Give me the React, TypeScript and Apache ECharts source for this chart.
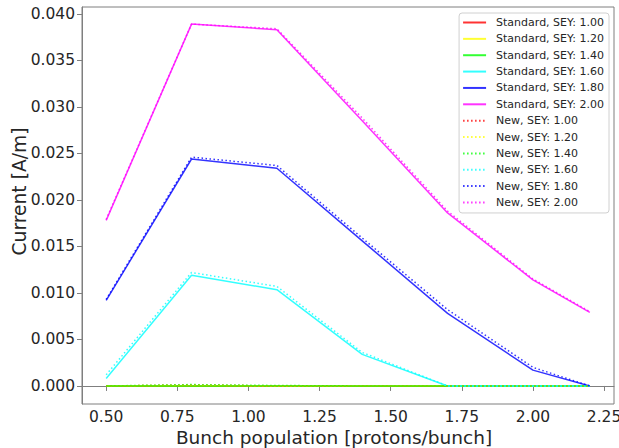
import React, { useEffect, useRef } from "react";
import * as echarts from "echarts";

const bunchPopulation = [0.5, 0.8, 1.1, 1.4, 1.7, 2.0, 2.2];
const xTicks = [0.5, 0.75, 1.0, 1.25, 1.5, 1.75, 2.0, 2.25];
const yTicks = [0, 0.005, 0.01, 0.015, 0.02, 0.025, 0.03, 0.035, 0.04];
const seyLabels = ["1.00", "1.20", "1.40", "1.60", "1.80", "2.00"];
const seyColors = ["#ff0000", "#ffff00", "#00ff00", "#00ffff", "#0000ff", "#ff00ff"];

const std100 = [0, 0, 0, 0, 0, 0, 0];
const std120 = [0, 0, 0, 0, 0, 0, 0];
const std140 = [0, 0, 0, 0, 0, 0, 0];
const std160 = [0.0008, 0.0119, 0.01035, 0.0034, 0, 0, 0];
const std180 = [0.0092, 0.0244, 0.0234, 0.0156, 0.0078, 0.0017, 0];
const std200 = [0.0178, 0.0389, 0.0383, 0.0285, 0.0186, 0.0114, 0.0079];

const new100 = [0, 0.0001, 0, 0, 0, 0, 0];
const new120 = [0, 0.0001, 0, 0, 0, 0, 0];
const new140 = [0, 0.00015, 0.00005, 0, 0, 0, 0];
const new160 = [0.0012, 0.0122, 0.0107, 0.0036, 0, 0, 0];
const new180 = [0.0093, 0.0246, 0.0237, 0.0159, 0.0082, 0.002, 0];
const new200 = [0.0179, 0.0389, 0.0384, 0.0288, 0.0188, 0.0115, 0.008];

const standardSeries = [std100, std120, std140, std160, std180, std200];
const newSeries = [new100, new120, new140, new160, new180, new200];

const FONT = "DejaVu Sans";

export default function App() {
  const ref = useRef<HTMLDivElement>(null);
  useEffect(() => {
    if (!ref.current) return;
    const chart = echarts.init(ref.current, undefined, { renderer: "svg" });
    const series: any[] = [];
    standardSeries.forEach((vals, i) => {
      series.push({
        name: `Standard, SEY: ${seyLabels[i]}`,
        type: "line",
        symbol: "none",
        data: bunchPopulation.map((x, j) => [x, vals[j]]),
        lineStyle: { color: seyColors[i], width: 1.5, opacity: 0.8 },
        itemStyle: { color: seyColors[i] },
      });
    });
    newSeries.forEach((vals, i) => {
      series.push({
        name: `New, SEY: ${seyLabels[i]}`,
        type: "line",
        symbol: "none",
        data: bunchPopulation.map((x, j) => [x, vals[j]]),
        lineStyle: { color: seyColors[i], width: 1.5, type: [1.5, 2.5], opacity: 0.8 },
        itemStyle: { color: seyColors[i] },
      });
    });
    const axisColor = "#7f7f7f";
    chart.setOption({
      animation: false,
      backgroundColor: "#ffffff",
      grid: {
        left: 82,
        right: 5,
        top: 7,
        bottom: 44,
        outerBoundsMode: "none",
        containLabel: false,
        show: true,
        borderColor: axisColor,
        borderWidth: 1,
      },
      legend: {
        orient: "vertical",
        right: 10,
        top: 13,
        padding: [4, 5, 5, 3],
        backgroundColor: "rgba(255,255,255,0.8)",
        borderColor: "#d0d0d0",
        borderWidth: 1,
        borderRadius: 3,
        itemWidth: 23,
        itemHeight: 11,
        itemGap: 5.36,
        itemStyle: { opacity: 0, borderWidth: 0 },
        textStyle: {
          fontFamily: FONT,
          fontSize: 11,
          lineHeight: 11,
          color: "#262626",
          padding: [0, 0, 0, 5],
        },
        data: series.map((s) => s.name),
      },
      xAxis: {
        type: "value",
        min: 0.415,
        max: 2.285,
        name: "Bunch population [protons/bunch]",
        nameLocation: "middle",
        nameGap: 24,
        nameMoveOverlap: false,
        nameTextStyle: {
          fontFamily: FONT,
          fontSize: 18.5,
          lineHeight: 19,
          color: "#262626",
          padding: [0, 28, 0, 0],
        },
        axisLine: { show: true, lineStyle: { color: axisColor } },
        axisTick: { show: true, length: 5, customValues: xTicks, lineStyle: { color: axisColor } },
        axisLabel: {
          customValues: xTicks,
          fontFamily: FONT,
          fontSize: 15.5,
          lineHeight: 15.5,
          color: "#262626",
          margin: 5,
          formatter: (v: number) => v.toFixed(2),
        },
        splitLine: { show: false },
      },
      yAxis: {
        type: "value",
        min: -0.00194,
        max: 0.04074,
        name: "Current [A/m]",
        nameLocation: "middle",
        nameGap: 53,
        nameMoveOverlap: false,
        nameRotate: 90,
        nameTextStyle: { fontFamily: FONT, fontSize: 18.7, color: "#262626", padding: [0, 0, 0, 28] },
        axisLine: { show: true, lineStyle: { color: axisColor } },
        axisTick: { show: true, length: 5, customValues: yTicks, lineStyle: { color: axisColor } },
        axisLabel: {
          customValues: yTicks,
          fontFamily: FONT,
          fontSize: 15.5,
          color: "#262626",
          margin: 7,
          formatter: (v: number) => v.toFixed(3),
        },
        splitLine: { show: false },
      },
      series,
    });
    return () => chart.dispose();
  }, []);
  return (
    <div
      ref={ref}
      style={{ position: "fixed", left: 0, top: 0, width: 619, height: 448 }}
    />
  );
}
